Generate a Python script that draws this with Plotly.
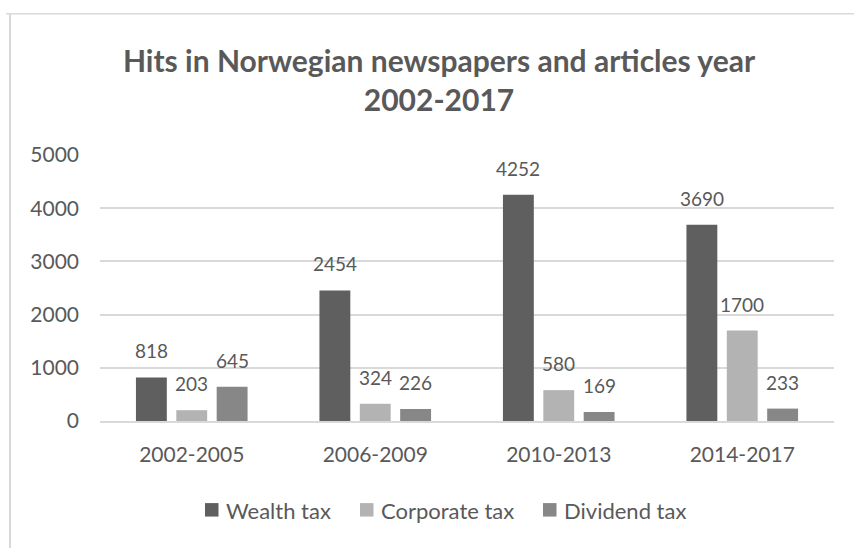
import plotly.graph_objects as go

categories = ["2002-2005", "2006-2009", "2010-2013", "2014-2017"]
wealth_tax = [818, 2454, 4252, 3690]
corporate_tax = [203, 324, 580, 1700]
dividend_tax = [645, 226, 169, 233]
series_names = ["Wealth tax", "Corporate tax", "Dividend tax"]
series_values = [wealth_tax, corporate_tax, dividend_tax]
colors = ["#5f5f5f", "#b3b3b3", "#878787"]
y_ticks = [0, 1000, 2000, 3000, 4000, 5000]

W, H = 854, 548
L, R, T, B = 100, 20, 154.5, 127
pw = W - L - R
ph = H - T - B

FONT = "Lato"
TXT = "#595959"

fig = go.Figure()
for name, vals, col in zip(series_names, series_values, colors):
    fig.add_trace(go.Bar(
        x=categories, y=vals, name=name, marker=dict(color=col, line=dict(width=0)),
        showlegend=False,
    ))

# data labels above bars
bargap = 0.34
slot = (1 - bargap) * pw / len(categories) / 3
for i, vals in enumerate(series_values):
    for c, v in zip(categories, vals):
        fig.add_annotation(
            x=c, y=v, text=str(v), showarrow=False, xref="x", yref="y",
            xshift=(i - 1) * slot, yanchor="bottom", yshift=13,
            font=dict(family=FONT, size=19, color=TXT),
        )

def px_x(p):
    return (p - L) / pw

def px_y(p):
    return (H - B - p) / ph

# chart border (left + top lines)
fig.add_shape(type="line", xref="paper", yref="paper",
              x0=px_x(10), x1=px_x(10), y0=px_y(13), y1=px_y(560),
              line=dict(color="#d9d9d9", width=2))
fig.add_shape(type="line", xref="paper", yref="paper",
              x0=px_x(6), x1=px_x(870), y0=px_y(13), y1=px_y(13),
              line=dict(color="#d9d9d9", width=1.5))

# manual legend (square swatch + label)
legend_sq_x = [205, 360, 543]
legend_y = 510
sq = 13.5
for name, col, sx in zip(series_names, colors, legend_sq_x):
    fig.add_shape(type="rect", xref="paper", yref="paper",
                  x0=px_x(sx), x1=px_x(sx + sq),
                  y0=px_y(legend_y + sq / 2), y1=px_y(legend_y - sq / 2),
                  fillcolor=col, line=dict(width=0))
    fig.add_annotation(
        x=px_x(sx + sq + 5), y=px_y(legend_y + 1), xref="paper", yref="paper",
        text=name, showarrow=False, xanchor="left", yanchor="middle",
        font=dict(family=FONT, size=22, color=TXT),
    )

fig.update_layout(
    width=W, height=H,
    margin=dict(l=L, r=R, t=T, b=B),
    paper_bgcolor="white", plot_bgcolor="white",
    barmode="group", bargap=bargap, bargroupgap=0.235,
    title=dict(
        text="<b>Hits in Norwegian newspapers and articles year<br>2002-2017</b>",
        x=439 / W, xanchor="center", y=1 - 72 / H, yanchor="middle",
        font=dict(family=FONT, size=30, color=TXT),
    ),
    font=dict(family=FONT, color=TXT),
    showlegend=False,
    yaxis=dict(
        range=[0, 5000], tickvals=y_ticks, showgrid=True,
        gridcolor="#d9d9d9", gridwidth=1.5, zeroline=False, showline=False,
        tickfont=dict(family=FONT, size=21, color=TXT),
        ticks="", ticklabelstandoff=20,
    ),
    xaxis=dict(
        showline=True, linecolor="#d9d9d9", linewidth=1.5,
        ticks="", showgrid=False,
        tickfont=dict(family=FONT, size=21, color=TXT),
        ticklabelstandoff=14,
    ),
)

fig.write_html("out.html")
